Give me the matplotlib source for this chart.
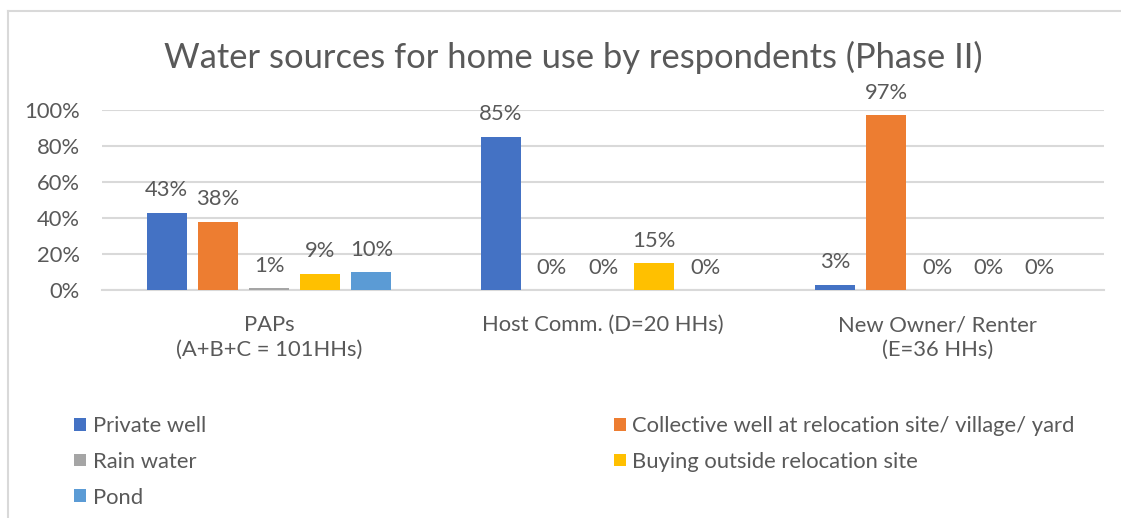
import matplotlib
matplotlib.use("Agg")
import matplotlib.pyplot as plt
from matplotlib.lines import Line2D
from matplotlib.patches import Patch
import numpy as np

# data
categories = ["PAPs\n(A+B+C = 101HHs)", "Host Comm. (D=20 HHs)", "New Owner/ Renter\n(E=36 HHs)"]
series = ["Private well", "Collective well at relocation site/ village/ yard",
          "Rain water", "Buying outside relocation site", "Pond"]
private_well = [0.43, 0.85, 0.03]
collective_well = [0.38, 0.00, 0.97]
rain_water = [0.01, 0.00, 0.00]
buying_outside = [0.09, 0.15, 0.00]
pond = [0.10, 0.00, 0.00]
yticks = [0, 0.2, 0.4, 0.6, 0.8, 1.0]
title = "Water sources for home use by respondents (Phase II)"

colors = ["#4472C4", "#ED7D31", "#A5A5A5", "#FFC000", "#5B9BD5"]
text_col = "#595959"
grid_col = "#D9D9D9"
fs = 15.8

plt.rcParams['font.family'] = ['Lato', 'DejaVu Sans']

fig = plt.figure(figsize=(11.21, 5.18), dpi=100)
ax = fig.add_axes([0.091, 0.440, 0.894, 0.348])

values = [private_well, collective_well, rain_water, buying_outside, pond]
x = np.arange(len(categories))
width = 0.12
step = 0.153
for i, (vals, col) in enumerate(zip(values, colors)):
    pos = x + (i - 2) * step
    bars = ax.bar(pos, vals, width=width, color=col, zorder=3)
    for b, v in zip(bars, vals):
        ax.annotate(f"{v:.0%}", (b.get_x() + b.get_width() / 2, v),
                    xytext=(0, 9), textcoords="offset points",
                    ha="center", va="bottom", fontsize=fs, color=text_col)

ax.set_xlim(-0.5, len(categories) - 0.5)
ax.set_ylim(0, 1.0)
ax.set_yticks(yticks)
ax.set_yticklabels([f"{t:.0%}" for t in yticks])
ax.set_xticks(x)
ax.set_xticklabels(categories, linespacing=1.3)
ax.tick_params(axis="y", length=0, pad=16, labelsize=fs, labelcolor=text_col)
ax.tick_params(axis="x", length=0, pad=18, labelsize=fs, labelcolor=text_col)
ax.grid(axis="y", color=grid_col, lw=1.5, zorder=0)
for s in ["top", "right", "left"]:
    ax.spines[s].set_visible(False)
ax.spines["bottom"].set_color(grid_col)
ax.spines["bottom"].set_linewidth(1.5)

fig.text(0.511, 0.89, title, ha="center", va="center", fontsize=24.8, color=text_col)

# legend in two groups to mimic the wide Excel layout
h = [Patch(facecolor=c) for c in colors]
leg_kw = dict(frameon=False, fontsize=fs, labelcolor=text_col, handlelength=0.55,
              handleheight=0.52, handletextpad=0.3, labelspacing=0.72, borderpad=0,
              borderaxespad=0, loc="upper left")
fig.legend([h[0], h[2], h[4]], [series[0], series[2], series[4]],
           bbox_to_anchor=(0.066, 0.197), **leg_kw)
fig.legend([h[1], h[3]], [series[1], series[3]],
           bbox_to_anchor=(0.5475, 0.197), **leg_kw)

# chart area border (left and top edges visible)
fig.add_artist(Line2D([0.0075, 0.0075], [0, 0.979], color=grid_col, lw=1.5))
fig.add_artist(Line2D([0.0075, 1.0], [0.979, 0.979], color=grid_col, lw=1.5))

fig.savefig("out.png", dpi=100)
